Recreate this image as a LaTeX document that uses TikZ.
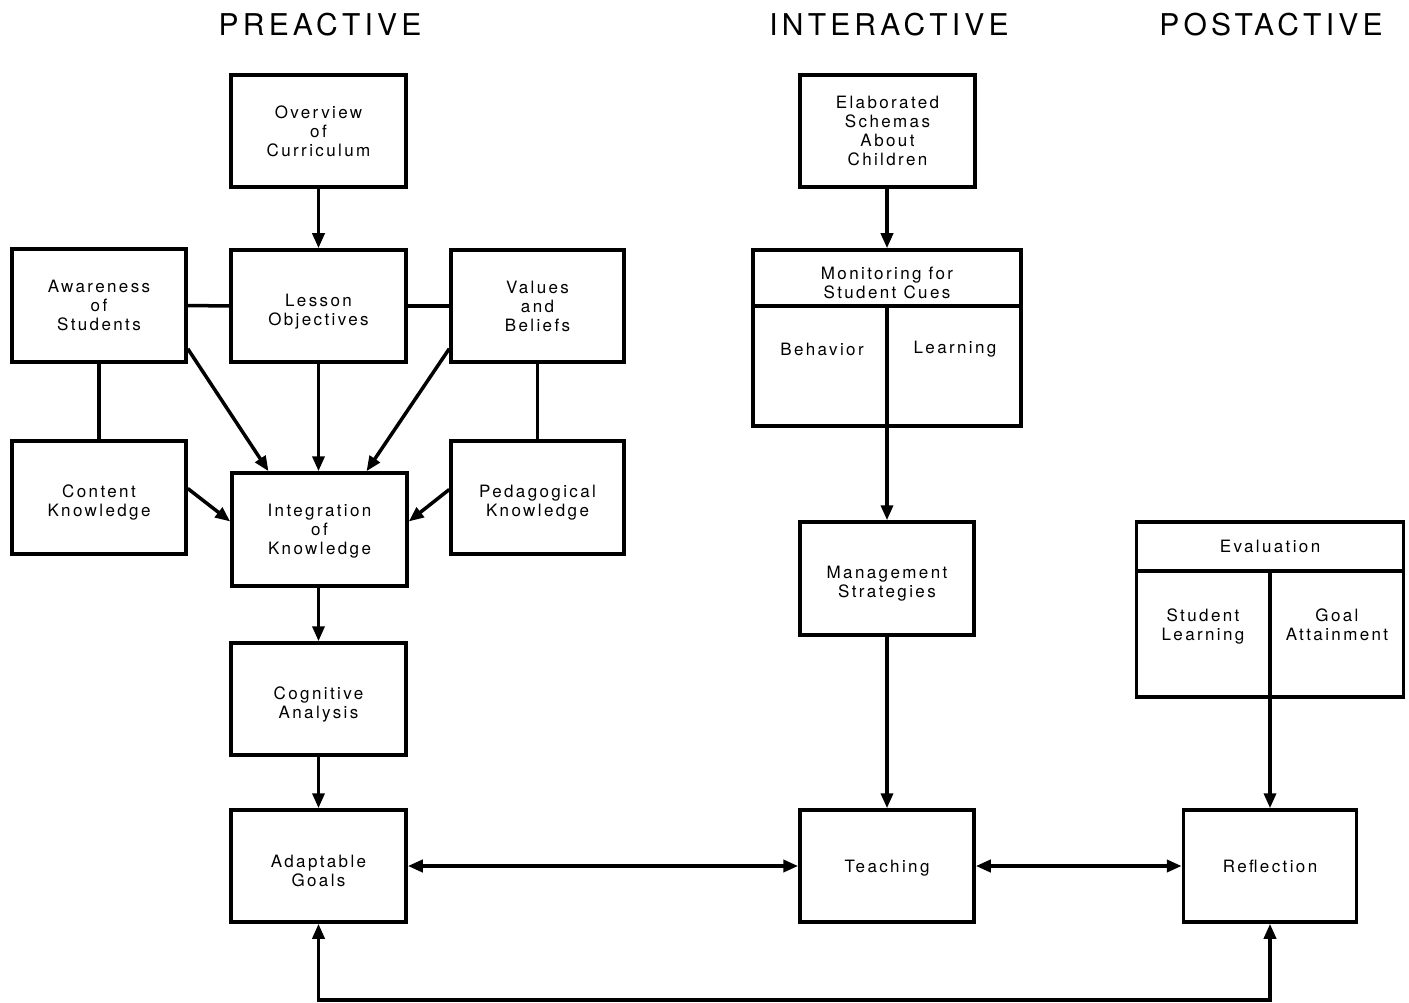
\documentclass[tikz,border=0pt]{standalone}
\usepackage{fontspec}
\setmainfont{TeX Gyre Heros}[LetterSpace=14]
\usetikzlibrary{arrows.meta}
\begin{document}
\begin{tikzpicture}[x=1pt,y=-1pt,
  box/.style={draw,line width=3.5pt,rectangle,inner sep=0pt,align=center,
    font=\fontsize{17}{19}\selectfont},
  lowtext/.style={text height=42pt},
  midtext/.style={text height=54.5pt},
  onetext/.style={text height=16.5pt},
  lbl/.style={inner sep=0pt,align=center,font=\fontsize{17}{19}\selectfont},
  ttl/.style={inner sep=0pt,font=\fontsize{30}{34}\selectfont},
  conn/.style={line width=3.5pt},
  arr/.style={line width=3.5pt,-{Triangle[length=15pt,width=12pt]}},
  darr/.style={line width=4pt,{Triangle[length=15pt,width=12pt]}-{Triangle[length=15pt,width=12pt]}}
]
\useasboundingbox (0,0) rectangle (1409,1003);

% titles
\node[ttl] (tpre) at (320,25) {PREACTIVE};
\node[ttl] (tint) at (889,25) {INTERACTIVE};
\node[ttl] (tpost) at (1271,25) {POSTACTIVE};

% preactive boxes
\node[box,minimum width=175pt,minimum height=112pt] (over) at (318.5,131) {Overview\\of\\Curriculum};
\node[box,lowtext,minimum width=175pt,minimum height=112pt] (lesson) at (318.5,306) {Lesson\\Objectives};
\node[box,minimum width=174pt,minimum height=113pt] (aware) at (99,305.5) {Awareness\\of\\Students};
\node[box,minimum width=173pt,minimum height=112pt] (values) at (537.5,306) {Values\\and\\Beliefs};
\node[box,lowtext,minimum width=174pt,minimum height=113pt] (content) at (99,497.5) {Content\\Knowledge};
\node[box,midtext,minimum width=175pt,minimum height=113pt] (integ) at (319.5,529.5) {Integration\\of\\Knowledge};
\node[box,lowtext,minimum width=173pt,minimum height=113pt] (ped) at (537.5,497.5) {Pedagogical\\Knowledge};
\node[box,lowtext,minimum width=175pt,minimum height=112pt] (cog) at (318.5,699) {Cognitive\\Analysis};
\node[box,lowtext,minimum width=175pt,minimum height=112pt] (adapt) at (318.5,866) {Adaptable\\Goals};

% interactive boxes
\node[box,minimum width=175pt,minimum height=112pt] (elab) at (887.5,131) {Elaborated\\Schemas\\About\\Children};
\node[box,minimum width=268pt,minimum height=176pt] (monitor) at (887,338) {};
\coordinate (mhl) at (754,306);
\coordinate (mhr) at (1021,306);
\coordinate (mdiv) at (887,306);
\node[lbl] (mtext) at (887,283) {Monitoring for\\Student Cues};
\node[lbl] (mbeh) at (822,349) {Behavior};
\node[lbl] (mlearn) at (955,349) {Learning};
\node[box,lowtext,minimum width=174pt,minimum height=113pt] (manage) at (887,578.5) {Management\\Strategies};
\node[box,onetext,minimum width=174pt,minimum height=112pt] (teach) at (887,866) {Teaching};

% postactive boxes
\node[box,minimum width=267pt,minimum height=175pt] (eval) at (1270,609.5) {};
\coordinate (ehl) at (1136,571);
\coordinate (ehr) at (1403,571);
\coordinate (ediv) at (1270,571);
\node[lbl] (etext) at (1270,546) {Evaluation};
\node[lbl] (estud) at (1203,626) {Student\\Learning};
\node[lbl] (egoal) at (1337,625) {Goal\\Attainment};
\node[box,minimum width=173pt,minimum height=112pt] (refl) at (1270,866) {Reflection};

% internal lines
\draw[conn] (mhl) -- (mhr);
\draw[conn] (mdiv) -- (monitor.south);
\draw[conn] (ehl) -- (ehr);
\draw[conn] (ediv) -- (eval.south);

% preactive connectors
\draw[arr] (over) -- (lesson);
\draw[conn] (aware.east) -- (lesson.west);
\draw[conn] (lesson.east) -- (values.west);
\draw[conn] (aware) -- (content);
\draw[conn] (values) -- (ped);
\draw[arr] ([yshift=15pt]aware.south east) -- ([xshift=-51pt]integ.north);
\draw[arr] (lesson) -- (integ.north -| lesson);
\draw[arr] ([yshift=15pt]values.south west) -- ([xshift=47pt]integ.north);
\draw[arr] ([yshift=9pt]content.east) -- ([yshift=8pt]integ.west);
\draw[arr] ([yshift=8pt]ped.west) -- ([yshift=8pt]integ.east);
\draw[arr] (integ.south -| cog) -- (cog);
\draw[arr] (cog) -- (adapt);

% interactive connectors
\draw[arr] (elab.south -| monitor) -- (monitor);
\draw[arr] (monitor.south) -- (manage);
\draw[arr] (manage) -- (teach);

% postactive connectors
\draw[arr] (eval.south) -- (refl);

% horizontal
\draw[darr] (adapt) -- (teach);
\draw[darr] (teach) -- (refl);

% bottom loop
\coordinate (loopl) at (318.5,1000);
\coordinate (loopr) at (1270,1000);
\draw[line width=3.5pt,{Triangle[length=15pt,width=12pt]}-{Triangle[length=15pt,width=12pt]}] (adapt.south) -- (loopl) -- (loopr) -- (refl.south);
\end{tikzpicture}
\end{document}
